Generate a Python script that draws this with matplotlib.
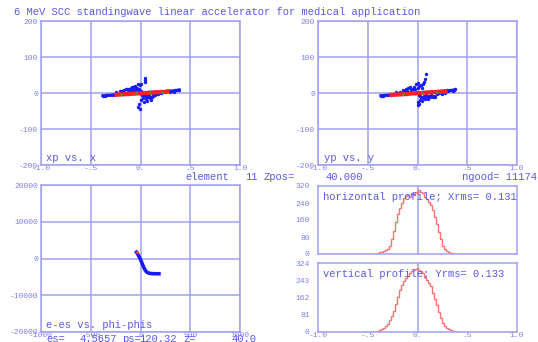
import numpy as np
import matplotlib
matplotlib.use("Agg")
import matplotlib.pyplot as plt

W, H = 538, 342
TXT = "#5a5ae0"
TICK = "#8080e8"
GRID = "#a0a0f0"
MONO = "Liberation Mono"

# ---- xp vs x  (blue halo, red core, a few green) ----
xx_blue = [-0.38, -0.36, -0.34, -0.31, -0.28, -0.25, -0.22, -0.19, -0.16, -0.13, -0.10, -0.07,
           -0.04, -0.01, 0.02, 0.05, 0.08, 0.11, 0.14, 0.17, 0.20, 0.23, 0.26, 0.29, 0.32,
           0.35, 0.37, 0.39,
           -0.25, -0.21, -0.17, -0.14, -0.12, -0.10, -0.08, -0.06, -0.04, -0.02, -0.07, -0.13,
           -0.01, 0.01, 0.05, 0.05, 0.05, -0.03, -0.05, -0.09, -0.15, -0.19,
           0.02, 0.05, 0.08, 0.10, 0.12, 0.15, 0.06, 0.03, 0.00, -0.02, -0.03, -0.01, 0.04,
           0.09, 0.13, 0.18, 0.21, 0.25, 0.30, 0.11, 0.07,
           -0.11, -0.09, -0.06, -0.03, 0.00, 0.03, 0.07, 0.10, 0.13, 0.16, -0.18, 0.34]
xp_blue = [-7, -7, -6, -6, -5, -4, -4, -3, -3, -2, -1, -1,
           0, 0, 1, 1, 2, 2, 3, 3, 4, 4, 5, 6, 6,
           7, 8, 9,
           3, 5, 7, 10, 12, 14, 17, 19, 14, 10, 8, 4,
           22, 24, 30, 37, 42, 26, 12, 18, 11, 6,
           -5, -8, -12, -15, -10, -6, -18, -14, -20, -30, -38, -44, -25,
           -5, -3, -2, 1, 2, 3, -19, -22,
           6, 9, 11, 7, 5, -6, -9, -11, -8, -4, 1, 4]
xx_red = [-0.24, -0.21, -0.18, -0.15, -0.12, -0.09, -0.06, -0.03, 0.00, 0.03, 0.06, 0.09,
          0.12, 0.15, 0.18, 0.21, 0.24, 0.27]
xp_red = [-5, -4, -4, -3, -3, -2, -2, -1, -1, 0, 0, 1, 1, 2, 2, 3, 3, 4]
xx_green = [-0.20, -0.05, 0.10, 0.22]
xp_green = [-3, -1, 1, 3]

# ---- yp vs y ----
yy_blue = [-0.37, -0.35, -0.33, -0.30, -0.27, -0.24, -0.21, -0.18, -0.15, -0.12, -0.09, -0.06,
           -0.03, 0.00, 0.03, 0.06, 0.09, 0.12, 0.15, 0.18, 0.21, 0.24, 0.27, 0.30, 0.33,
           0.35, 0.37, 0.38,
           -0.22, -0.18, -0.15, -0.12, -0.10, -0.08, -0.06, -0.04, -0.02, 0.00, 0.02, 0.05,
           0.07, 0.08, 0.09, 0.04, -0.05, -0.11, 0.01, 0.06,
           0.02, 0.04, 0.06, 0.08, 0.10, 0.12, 0.14, 0.03, 0.01, 0.00, 0.02, 0.05, 0.16,
           0.20, 0.25, 0.28, 0.18, 0.11,
           -0.14, -0.07, -0.03, 0.03, 0.07, 0.09, 0.13, 0.17, 0.22, -0.19, 0.31, 0.36]
yp_blue = [-7, -7, -6, -6, -5, -4, -4, -3, -2, -2, -1, 0,
           0, 1, 1, 2, 2, 3, 4, 4, 5, 5, 6, 7, 7,
           8, 9, 10,
           2, 4, 8, 10, 14, 16, 12, 18, 24, 28, 20, 15,
           30, 38, 52, 22, 10, 6, 14, 26,
           -5, -10, -14, -18, -12, -8, -6, -20, -26, -33, -30, -22, -10,
           -4, -3, 0, -12, -16,
           5, 7, 10, -7, -9, -6, -11, -7, -1, 1, 5, 6]
yy_red = [-0.26, -0.23, -0.20, -0.17, -0.14, -0.11, -0.08, -0.05, -0.02, 0.01, 0.04, 0.07,
          0.10, 0.13, 0.16, 0.19, 0.22, 0.25, 0.28]
yp_red = [-5, -5, -4, -4, -3, -3, -2, -1, -1, 0, 0, 1, 1, 2, 2, 3, 3, 4, 4]
yy_green = [-0.15, 0.05, 0.20]
yp_green = [-2, 1, 3]

# ---- e-es vs phi-phis ----
dphi = [-40, -32, -24, -16, -8, 0, 8, 16, 24, 32, 40, 48, 56, 66, 78, 92, 108, 126, 146, 166, 185]
de = [1700, 1400, 1000, 600, 200, -300, -800, -1300, -1850, -2350, -2800, -3200, -3500,
      -3750, -3920, -4030, -4100, -4130, -4150, -4150, -4150]

# ---- profiles (bin centres) ----
pos = [-0.42, -0.40, -0.38, -0.36, -0.34, -0.32, -0.30, -0.28, -0.26, -0.24, -0.22, -0.20,
       -0.18, -0.16, -0.14, -0.12, -0.10, -0.08, -0.06, -0.04, -0.02, 0.00, 0.02, 0.04,
       0.06, 0.08, 0.10, 0.12, 0.14, 0.16, 0.18, 0.20, 0.22, 0.24, 0.26, 0.28, 0.30,
       0.32, 0.34, 0.36, 0.38, 0.40, 0.42]
hprof = [2, 5, 8, 10, 14, 18, 25, 40, 70, 110, 150, 190, 215, 240, 262, 275, 280, 270,
         285, 280, 290, 285, 300, 290, 285, 270, 260, 245, 230, 205, 175, 140, 105, 70,
         40, 25, 15, 10, 6, 4, 2, 1, 0]
vprof = [2, 5, 10, 15, 20, 28, 38, 55, 75, 100, 130, 165, 195, 220, 240, 255, 265, 275,
         285, 290, 295, 300, 290, 285, 275, 260, 245, 230, 215, 185, 155, 125, 95, 65,
         42, 28, 20, 14, 9, 5, 3, 1, 0]

fig = plt.figure(figsize=(W / 100, H / 100), dpi=100)


def box(x0, y0, x1, y1):
    return fig.add_axes([x0 / W, 1 - y1 / H, (x1 - x0) / W, (y1 - y0) / H])


def style(ax, xt, xl, yt, yl, grid=True, ypad=2.2):
    for s in ax.spines.values():
        s.set_color(GRID)
        s.set_linewidth(1.1)
    ax.set_xticks(xt)
    ax.set_xticklabels(xl)
    ax.set_yticks(yt)
    ax.set_yticklabels(yl)
    ax.tick_params(axis="both", length=0, colors=TICK, labelsize=5.8)
    ax.tick_params(axis="x", pad=0.3)
    ax.tick_params(axis="y", pad=ypad)
    for t in ax.get_xticklabels() + ax.get_yticklabels():
        t.set_fontfamily(MONO)
    if grid:
        ax.grid(True, color=GRID, linewidth=1.1)
        ax.set_axisbelow(True)


xt = [-1.0, -0.5, 0.0, 0.5, 1.0]
xl = ["-1.0", "-.5", "0.", ".5", "1.0"]

# top-left
ax1 = box(41, 21, 240, 165)
ax1.set_xlim(-1, 1)
ax1.set_ylim(-200, 200)
style(ax1, xt, xl, [-200, -100, 0, 100, 200], ["-200", "-100", "0", "100", "200"])
ax1.plot(xx_blue[:28], xp_blue[:28], color="#1a1aff", lw=2.0)
ax1.scatter(xx_blue, xp_blue, s=6, color="#1a1aff", linewidths=0)
ax1.plot(xx_red, xp_red, color="#ff2020", lw=3.0)
ax1.scatter(xx_green, xp_green, s=3, color="#20b020", linewidths=0, zorder=3)
ax1.text(0.025, 0.03, "xp vs. x", transform=ax1.transAxes, family=MONO, fontsize=7.6, color=TXT)

# top-right
ax2 = box(318, 21, 517, 165)
ax2.set_xlim(-1, 1)
ax2.set_ylim(-200, 200)
style(ax2, xt, xl, [-200, -100, 0, 100, 200], ["-200", "-100", "0", "100", "200"])
ax2.plot(yy_blue[:28], yp_blue[:28], color="#1a1aff", lw=2.0)
ax2.scatter(yy_blue, yp_blue, s=6, color="#1a1aff", linewidths=0)
ax2.plot(yy_red, yp_red, color="#ff2020", lw=3.0)
ax2.scatter(yy_green, yp_green, s=3, color="#20b020", linewidths=0, zorder=3)
ax2.text(0.03, 0.03, "yp vs. y", transform=ax2.transAxes, family=MONO, fontsize=7.6, color=TXT)

# bottom-left
ax3 = box(41, 185, 240, 332)
ax3.set_xlim(-1000, 1000)
ax3.set_ylim(-20000, 20000)
style(ax3, [-1000, -500, 0, 500, 1000], ["-1000", "-500", "0", "500", "1000"],
      [-20000, -10000, 0, 10000, 20000], ["-20000", "-10000", "0", "10000", "20000"])
ax3.plot(dphi, de, color="#1a1aff", lw=2.6)
ax3.scatter([-38], [1700], s=5, color="#e04040", linewidths=0, zorder=3)
ax3.text(0.025, 0.03, "e-es vs. phi-phis", transform=ax3.transAxes, family=MONO, fontsize=7.6, color=TXT)


def profile(ax, vals):
    edges_x = [-1.0] + [p - 0.01 for p in pos] + [pos[-1] + 0.01, 1.0]
    ys = [0] + list(vals) + [0]
    ax.stairs(ys, edges_x, color="#ff7070", lw=1.0, baseline=None)
    ax.axvline(0, color=GRID, lw=1.1, zorder=0)


ax4 = box(318, 186, 517, 254)
ax4.set_xlim(-1, 1)
ax4.set_ylim(0, 320)
style(ax4, [], [], [0, 80, 160, 240, 320], ["0", "80", "160", "240", "320"], grid=False, ypad=6)
profile(ax4, hprof)
ax4.text(0.025, 0.80, "horizontal profile; Xrms= 0.131", transform=ax4.transAxes,
         family=MONO, fontsize=7.6, color=TXT, clip_on=False)

ax5 = box(318, 263, 517, 332)
ax5.set_xlim(-1, 1)
ax5.set_ylim(0, 324)
style(ax5, xt, xl, [0, 81, 162, 243, 324], ["0", "81", "162", "243", "324"], grid=False, ypad=6)
profile(ax5, vprof)
ax5.text(0.025, 0.80, "vertical profile; Yrms= 0.133", transform=ax5.transAxes,
         family=MONO, fontsize=7.6, color=TXT)


def ftext(x, y, s):
    fig.text(x / W, 1 - y / H, s, family=MONO, fontsize=7.6, color=TXT, va="center", ha="left")


ftext(14, 12, "6 MeV SCC standingwave linear accelerator for medical application")
ftext(185, 177, "element")
ftext(245, 177, "11")
ftext(264, 177, "Zpos=")
ftext(325, 177, "40.000")
ftext(462, 177, "ngood= 11174")
ftext(46, 339, "es=")
ftext(79, 339, "4.5657")
ftext(122, 339, "ps=")
ftext(139, 339, "120.32")
ftext(183, 339, "z=")
ftext(232, 339, "40.0")

fig.savefig("out.png", dpi=100)
